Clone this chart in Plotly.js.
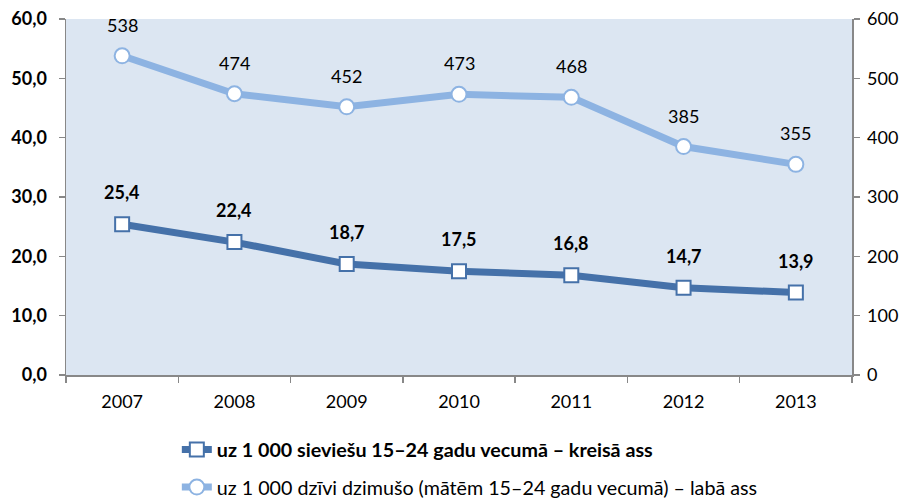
<!DOCTYPE html>
<html><head><meta charset="utf-8">
<script src="https://cdn.plot.ly/plotly-3.0.1.min.js"></script>
<style>body{margin:0;background:#fff}#c{width:908px;height:503px}</style>
</head><body><div id="c"></div>
<script>
const years = ['2007','2008','2009','2010','2011','2012','2013'];
const perWomen = [25.4, 22.4, 18.7, 17.5, 16.8, 14.7, 13.9];
const perBirths = [538, 474, 452, 473, 468, 385, 355];
const nameWomen = '<b>uz 1 000 sieviešu 15–24 gadu vecumā – kreisā ass</b>';
const nameBirths = 'uz 1 000 dzīvi dzimušo (mātēm 15–24 gadu vecumā) – labā ass';

const dark = '#4571A9', light = '#8DB3E2';
const font = 'Lato, "Open Sans", sans-serif';

const traces = [
  {x: years, y: perWomen, name: nameWomen, type: 'scatter', mode: 'lines+markers',
   line: {color: dark, width: 7}, marker: {symbol: 'square', size: 14, color: '#fff', line: {color: dark, width: 2}},
   yaxis: 'y', legendgroup: 'a', cliponaxis: false},
  {x: years, y: perBirths, name: nameBirths, type: 'scatter', mode: 'lines+markers',
   line: {color: light, width: 7}, marker: {symbol: 'circle', size: 15, color: '#fff', line: {color: light, width: 2}},
   yaxis: 'y2', legendgroup: 'b', cliponaxis: false}
];

const annotations = [];
years.forEach((yr, i) => {
  annotations.push({x: i, y: perWomen[i], xref: 'x', yref: 'y',
    text: '<b>' + perWomen[i].toFixed(1).replace('.', ',') + '</b>',
    showarrow: false, yshift: 32, font: {family: font, size: 18, color: '#000'}});
  annotations.push({x: i, y: perBirths[i], xref: 'x', yref: 'y2', text: String(perBirths[i]),
    showarrow: false, yshift: 31, font: {family: font, size: 18, color: '#000'}});
});

const axisCommon = {showgrid: false, zeroline: false, showline: true, linecolor: '#888', linewidth: 1.5,
  ticks: 'outside', ticklen: 6, tickcolor: '#888', tickwidth: 1.5, automargin: false};

const layout = {
  width: 908, height: 503,
  margin: {l: 66, r: 56, t: 19, b: 128, autoexpand: false},
  paper_bgcolor: '#fff', plot_bgcolor: '#DCE6F2',
  separators: ', ',
  font: {family: font, size: 18, color: '#000'},
  showlegend: true,
  legend: {x: 0.141, xanchor: 'left', y: -0.155, yanchor: 'top', orientation: 'v',
    font: {family: font, size: 19.7, color: '#000'}, tracegroupgap: 9, bgcolor: 'rgba(0,0,0,0)'},
  xaxis: Object.assign({}, axisCommon, {type: 'category', range: [-0.5, 6.5], tickson: 'boundaries',
    tickangle: 0, ticklabelstandoff: 10, tickfont: {family: font, size: 18, color: '#000'}}),
  yaxis: Object.assign({}, axisCommon, {range: [0, 60], dtick: 10, tickformat: '.1f', ticklabelstandoff: 8,
    tickfont: {family: font, size: 18, color: '#000', weight: 'bold'}}),
  yaxis2: Object.assign({}, axisCommon, {overlaying: 'y', side: 'right', range: [0, 600], dtick: 100,
    ticklabelstandoff: 4, tickfont: {family: font, size: 18, color: '#000'}}),
  annotations: annotations
};

Plotly.newPlot('c', traces, layout, {displayModeBar: false, staticPlot: true});
</script></body></html>
